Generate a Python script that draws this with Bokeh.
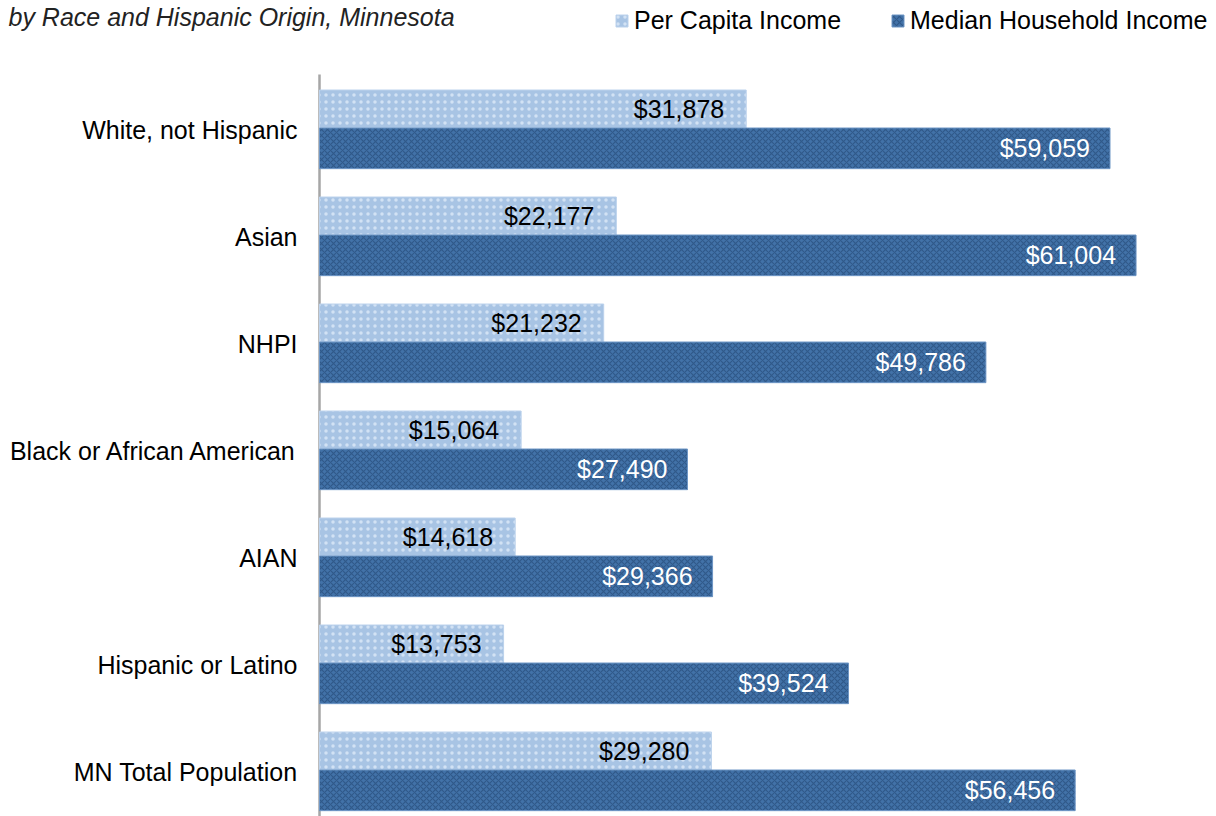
from bokeh.plotting import figure
from bokeh.models import Range1d, Legend, LegendItem, Label, ColumnDataSource
from bokeh.core.properties import value
from bokeh.embed import file_html
from bokeh.resources import INLINE

categories = ["White, not Hispanic", "Asian", "NHPI", "Black or African American",
              "AIAN", "Hispanic or Latino", "MN Total Population"]
per_capita = [31878, 22177, 21232, 15064, 14618, 13753, 29280]
median_household = [59059, 61004, 49786, 27490, 29366, 39524, 56456]
series_names = ["Per Capita Income", "Median Household Income"]
title_text = "by Race and Hispanic Origin, Minnesota"

FONT = "Liberation Sans"
idx = list(range(len(categories)))

# scales: px per dollar, px per category; axis at page x=319, plot top at y=74
PX_PER_USD = 0.013385
PX_PER_CAT = 107.0
x_start = -319 / PX_PER_USD
x_end = (1216 - 319) / PX_PER_USD
y_axis_top = -0.5
y_top = y_axis_top - 74 / PX_PER_CAT
y_bottom = y_axis_top + 742 / PX_PER_CAT

p = figure(width=1216, height=816, output_backend="svg", toolbar_location=None,
           x_range=Range1d(x_start, x_end), y_range=Range1d(y_bottom, y_top),
           min_border_left=0, min_border_right=0, min_border_top=0, min_border_bottom=0)
p.outline_line_color = None
p.xgrid.visible = False
p.ygrid.visible = False
p.xaxis.visible = False
p.yaxis.visible = False

# vertical category axis line
p.segment(x0=[0], y0=[y_axis_top], x1=[0], y1=[y_bottom], line_color="#a6a6a6", line_width=2.5)

# category labels
p.text(x=[0] * len(categories), y=idx, text=categories, text_align="right",
       text_baseline="middle", x_offset=-22, y_offset=2, text_font=value(FONT),
       text_font_size="25px", text_color="#000000")

src_pc = ColumnDataSource(dict(
    y=[i - 0.1775 for i in idx], right=per_capita,
    label=["${:,}".format(v) for v in per_capita]))
src_md = ColumnDataSource(dict(
    y=[i + 0.19 for i in idx], right=median_household,
    label=["${:,}".format(v) for v in median_household]))

r_pc = p.hbar(y="y", right="right", left=0, height=0.355, source=src_pc,
              fill_color="#a8c4e4", line_color="#bcd2ec", line_width=1,
              hatch_pattern="dot", hatch_color="#d2e2f4", hatch_scale=7, hatch_weight=2.5)
r_md = p.hbar(y="y", right="right", left=0, height=0.38, source=src_md,
              fill_color="#4272a8", line_color="#6f97c6", line_width=1,
              hatch_pattern="diagonal_cross", hatch_color="#30598a", hatch_scale=6, hatch_weight=1.2)

p.text(x="right", y="y", text="label", source=src_pc, text_align="right",
       text_baseline="middle", x_offset=-22, text_font=value(FONT),
       text_font_size="25px", text_color="#000000")
p.text(x="right", y="y", text="label", source=src_md, text_align="right",
       text_baseline="middle", x_offset=-20, text_font=value(FONT),
       text_font_size="25px", text_color="#ffffff")

legend = Legend(items=[LegendItem(label=series_names[0], renderers=[r_pc]),
                       LegendItem(label=series_names[1], renderers=[r_md])],
                orientation="horizontal", location=(614, 781),
                glyph_width=15, glyph_height=15, label_standoff=5, spacing=49,
                padding=0, margin=0, border_line_alpha=0, background_fill_alpha=0,
                label_text_font=FONT, label_text_font_size="25px",
                label_text_color="#000000")
p.add_layout(legend, "center")

p.add_layout(Label(x=8, y=814, x_units="screen", y_units="screen",
                   text=title_text, text_font=FONT, text_font_style="italic",
                   text_font_size="25px", text_color="#222222", text_baseline="top"))

open("out.html", "w").write(file_html(p, INLINE))
